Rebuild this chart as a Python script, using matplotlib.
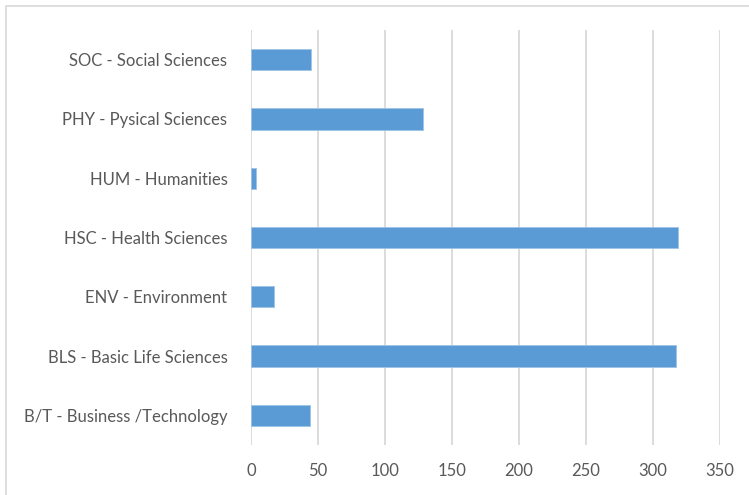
import matplotlib.pyplot as plt
from matplotlib.patches import Rectangle

categories = [
    "B/T - Business /Technology",
    "BLS - Basic Life Sciences",
    "ENV - Environment",
    "HSC - Health Sciences",
    "HUM - Humanities",
    "PHY - Pysical Sciences",
    "SOC - Social Sciences",
]
values = [44, 317, 17, 319, 4, 128, 45]
xticks = [0, 50, 100, 150, 200, 250, 300, 350]

plt.rcParams['font.family'] = ['Lato', 'DejaVu Sans']

fig = plt.figure(figsize=(7.49, 4.95), dpi=100)
ax = fig.add_axes([251 / 749, 50 / 495, (720 - 251) / 749, (465 - 50) / 495])

# outer chart border (cropped on right/bottom)
fig.patches.append(Rectangle((6 / 749, -0.05), 1.1, 1 - 6 / 495 + 0.05,
                             transform=fig.transFigure, fill=False,
                             edgecolor='#d9d9d9', linewidth=1.2))

ypos = range(len(categories))
ax.barh(ypos, values, height=0.36, color='#5b9bd5', edgecolor='#9dc3e6',
        linewidth=0.6, zorder=3)

ax.set_xlim(0, 350)
ax.set_ylim(-0.5, len(categories) - 0.5)
ax.set_xticks(xticks)
ax.set_yticks(list(ypos))
ax.set_yticklabels(categories)
ax.grid(axis='x', color='#d9d9d9', linewidth=1.3, zorder=0)
for s in ax.spines.values():
    s.set_visible(False)
ax.tick_params(length=0, labelsize=12, colors='#595959')
ax.tick_params(axis='x', pad=13)
ax.tick_params(axis='y', pad=17)

fig.savefig('out.png', dpi=100)
